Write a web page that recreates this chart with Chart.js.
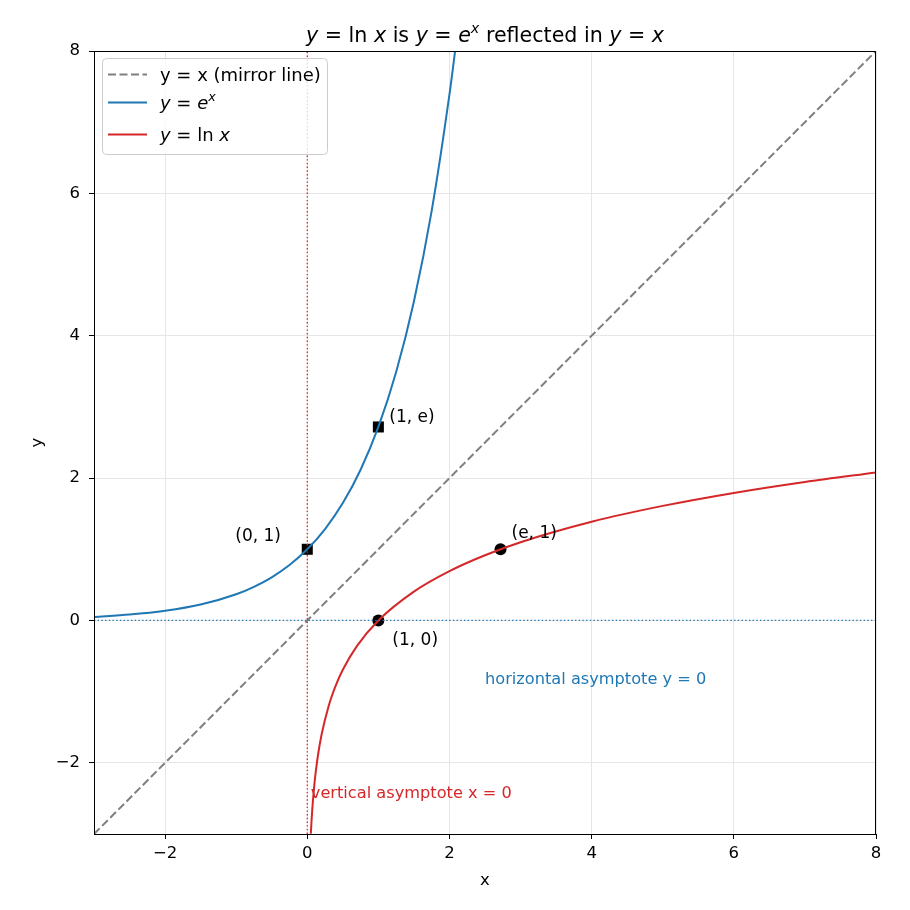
<!DOCTYPE html>
<html>
<head>
<meta charset="utf-8">
<script src="https://cdn.jsdelivr.net/npm/chart.js@4.4.0/dist/chart.umd.min.js"></script>
<style>
  html, body { margin: 0; padding: 0; background: #fff; }
  canvas { display: block; }
</style>
</head>
<body>
<canvas id="chart" width="910" height="910" style="width:910px;height:910px"></canvas>
<script>
// axis range and ticks
const xRange = [-3, 8];
const yRange = [-3, 8];
const xTicks = [-2, 0, 2, 4, 6, 8];
const yTicks = [-2, 0, 2, 4, 6, 8];

// y = e^x, sampled
const expX = [-3, -2.5, -2, -1.5, -1, -0.75, -0.5, -0.25, 0, 0.25, 0.5, 0.75, 1, 1.25, 1.5, 1.75, 2, 2.08];
const expY = [0.0498, 0.0821, 0.1353, 0.2231, 0.3679, 0.4724, 0.6065, 0.7788, 1, 1.2840, 1.6487, 2.1170, 2.7183, 3.4903, 4.4817, 5.7546, 7.3891, 8.0045];

// y = ln x, sampled
const lnX = [0.05, 0.06, 0.07, 0.08, 0.1, 0.12, 0.15, 0.2, 0.3, 0.4, 0.5, 0.7, 1, 1.5, 2, 2.5, 3, 4, 5, 6, 7, 8];
const lnY = [-2.9957, -2.8134, -2.6593, -2.5257, -2.3026, -2.1203, -1.8971, -1.6094, -1.2040, -0.9163, -0.6931, -0.3567, 0, 0.4055, 0.6931, 0.9163, 1.0986, 1.3863, 1.6094, 1.7918, 1.9459, 2.0794];

// mirror line y = x
const mirrorX = [-3, 8];
const mirrorY = [-3, 8];

// marked points
const squareX = [0, 1];
const squareY = [1, 2.7183];
const circleX = [1, 2.7183];
const circleY = [0, 1];
const pointLabels = ['(0, 1)', '(1, e)', '(1, 0)', '(e, 1)'];
const pointLabelX = [0, 1, 1, 2.7183];
const pointLabelY = [1, 2.7183, 0, 1];

// asymptote notes
const asymLabels = ['horizontal asymptote y = 0', 'vertical asymptote x = 0'];
const asymLabelX = [2.5, 0.05];
const asymLabelY = [-0.83, -2.44];

const BLUE = '#1f77b4';
const RED = '#d62728';
const GRAY = '#7f7f7f';
const FONT = '"DejaVu Sans", sans-serif';

const toPts = (xs, ys) => xs.map((x, i) => ({ x: x, y: ys[i] }));

// draws text made of pieces (italic / superscript) starting at x, baseline y
const drawRich = (ctx, parts, x, y, size, align) => {
    const fontOf = p => (p.i ? 'italic ' : '') + (p.sup ? size * 0.7 : size) + 'px ' + FONT;
    let total = 0;
    parts.forEach(p => { ctx.font = fontOf(p); total += ctx.measureText(p.t).width; });
    let cx = align === 'center' ? x - total / 2 : x;
    ctx.textAlign = 'left';
    ctx.textBaseline = 'alphabetic';
    parts.forEach(p => {
        ctx.font = fontOf(p);
        ctx.fillText(p.t, cx, p.sup ? y - size * 0.42 : y);
        cx += ctx.measureText(p.t).width;
    });
};

const titleParts = [
    { t: 'y', i: 1 }, { t: ' = ln ' }, { t: 'x', i: 1 }, { t: ' is ' },
    { t: 'y', i: 1 }, { t: ' = ' }, { t: 'e', i: 1 }, { t: 'x', i: 1, sup: 1 },
    { t: ' reflected in ' }, { t: 'y', i: 1 }, { t: ' = ' }, { t: 'x', i: 1 }
];
const legendRows = [
    { parts: [{ t: 'y = x (mirror line)' }], color: GRAY, dash: [8, 3.5], base: 80.5 },
    { parts: [{ t: 'y', i: 1 }, { t: ' = ' }, { t: 'e', i: 1 }, { t: 'x', i: 1, sup: 1 }], color: BLUE, dash: [], base: 108.5 },
    { parts: [{ t: 'y', i: 1 }, { t: ' = ln ' }, { t: 'x', i: 1 }], color: RED, dash: [], base: 140.5 }
];

const decorPlugin = {
    id: 'decor',
    afterDraw(chart) {
        const ctx = chart.ctx;
        const a = chart.chartArea;
        const xs = chart.scales.x, ys = chart.scales.y;
        ctx.save();
        // frame
        ctx.strokeStyle = '#000';
        ctx.lineWidth = 1;
        ctx.strokeRect(a.left + 0.5, a.top + 0.5, a.right - a.left - 1, a.bottom - a.top);

        // title
        ctx.fillStyle = '#000';
        drawRich(ctx, titleParts, (a.left + a.right) / 2, 41.5, 20.6, 'center');

        // axis titles
        ctx.font = '16.5px ' + FONT;
        ctx.textAlign = 'center';
        ctx.textBaseline = 'middle';
        ctx.fillText('x', (a.left + a.right) / 2, 881);
        ctx.save();
        ctx.translate(38, (a.top + a.bottom) / 2);
        ctx.rotate(-Math.PI / 2);
        ctx.fillText('y', 0, 0);
        ctx.restore();

        // point labels
        const offs = [[-72, -13], [11, -9], [14, 20], [11, -16]];
        ctx.font = '17px ' + FONT;
        ctx.textAlign = 'left';
        ctx.textBaseline = 'middle';
        ctx.fillStyle = '#000';
        pointLabels.forEach((t, i) => {
            ctx.fillText(t, xs.getPixelForValue(pointLabelX[i]) + offs[i][0], ys.getPixelForValue(pointLabelY[i]) + offs[i][1]);
        });

        // asymptote notes
        ctx.font = '16.2px ' + FONT;
        [BLUE, RED].forEach((c, i) => {
            ctx.fillStyle = c;
            ctx.fillText(asymLabels[i], xs.getPixelForValue(asymLabelX[i]), ys.getPixelForValue(asymLabelY[i]));
        });

        // legend
        const bx = 102, by = 58, bw = 225, bh = 96;
        ctx.fillStyle = 'rgba(255,255,255,0.8)';
        ctx.strokeStyle = '#cccccc';
        ctx.lineWidth = 1;
        ctx.beginPath();
        ctx.roundRect(bx + 0.5, by + 0.5, bw, bh, 4);
        ctx.fill();
        ctx.stroke();
        legendRows.forEach(r => {
            const ly = r.base - 6;
            ctx.strokeStyle = r.color;
            ctx.lineWidth = 2;
            ctx.setLineDash(r.dash);
            ctx.beginPath();
            ctx.moveTo(108, ly);
            ctx.lineTo(147, ly);
            ctx.stroke();
            ctx.setLineDash([]);
            ctx.fillStyle = '#000';
            drawRich(ctx, r.parts, 160, r.base, 18, 'left');
        });
        ctx.restore();
    }
};

const fmt = v => (v < 0 ? '\u2212' + Math.abs(v) : String(v));

new Chart(document.getElementById('chart').getContext('2d'), {
    type: 'scatter',
    data: {
        datasets: [
            { data: toPts([0, 0], yRange), showLine: true, borderColor: RED, borderWidth: 1.3, borderDash: [1.4, 2.3], pointRadius: 0 },
            { data: toPts(xRange, [0, 0]), showLine: true, borderColor: BLUE, borderWidth: 1.3, borderDash: [1.4, 2.3], pointRadius: 0 },
            { data: toPts(mirrorX, mirrorY), showLine: true, borderColor: GRAY, borderWidth: 2, borderDash: [8, 3.5], pointRadius: 0 },
            { data: toPts(expX, expY), showLine: true, borderColor: BLUE, borderWidth: 2, pointRadius: 0, cubicInterpolationMode: 'monotone' },
            { data: toPts(lnX, lnY), showLine: true, borderColor: RED, borderWidth: 2, pointRadius: 0, cubicInterpolationMode: 'monotone' },
            { data: toPts(squareX, squareY), pointStyle: 'rect', pointRadius: 7.8, backgroundColor: '#000', borderColor: '#000', borderWidth: 0 },
            { data: toPts(circleX, circleY), pointStyle: 'circle', pointRadius: 6, backgroundColor: '#000', borderColor: '#000', borderWidth: 0 }
        ]
    },
    options: {
        responsive: false,
        devicePixelRatio: 1,
        animation: false,
        layout: { padding: { top: 51, right: 34, left: 0, bottom: 0 } },
        plugins: { legend: { display: false }, tooltip: { enabled: false } },
        scales: {
            x: {
                type: 'linear', min: xRange[0], max: xRange[1],
                afterBuildTicks: s => { s.ticks = xTicks.map(v => ({ value: v })); },
                afterFit: s => { s.height = 76; },
                grid: { color: '#e6e6e6', lineWidth: 1, tickLength: 5, tickColor: '#000' },
                border: { display: true, color: '#000', width: 1 },
                ticks: { color: '#000', font: { family: FONT, size: 16.5 }, padding: 5, maxRotation: 0, callback: fmt }
            },
            y: {
                type: 'linear', min: yRange[0], max: yRange[1],
                afterBuildTicks: s => { s.ticks = yTicks.map(v => ({ value: v })); },
                afterFit: s => { s.width = 94; },
                grid: { color: '#e6e6e6', lineWidth: 1, tickLength: 5, tickColor: '#000' },
                border: { display: true, color: '#000', width: 1 },
                ticks: { color: '#000', font: { family: FONT, size: 16.5 }, padding: 9, callback: fmt }
            }
        }
    },
    plugins: [decorPlugin]
});
</script>
</body>
</html>
